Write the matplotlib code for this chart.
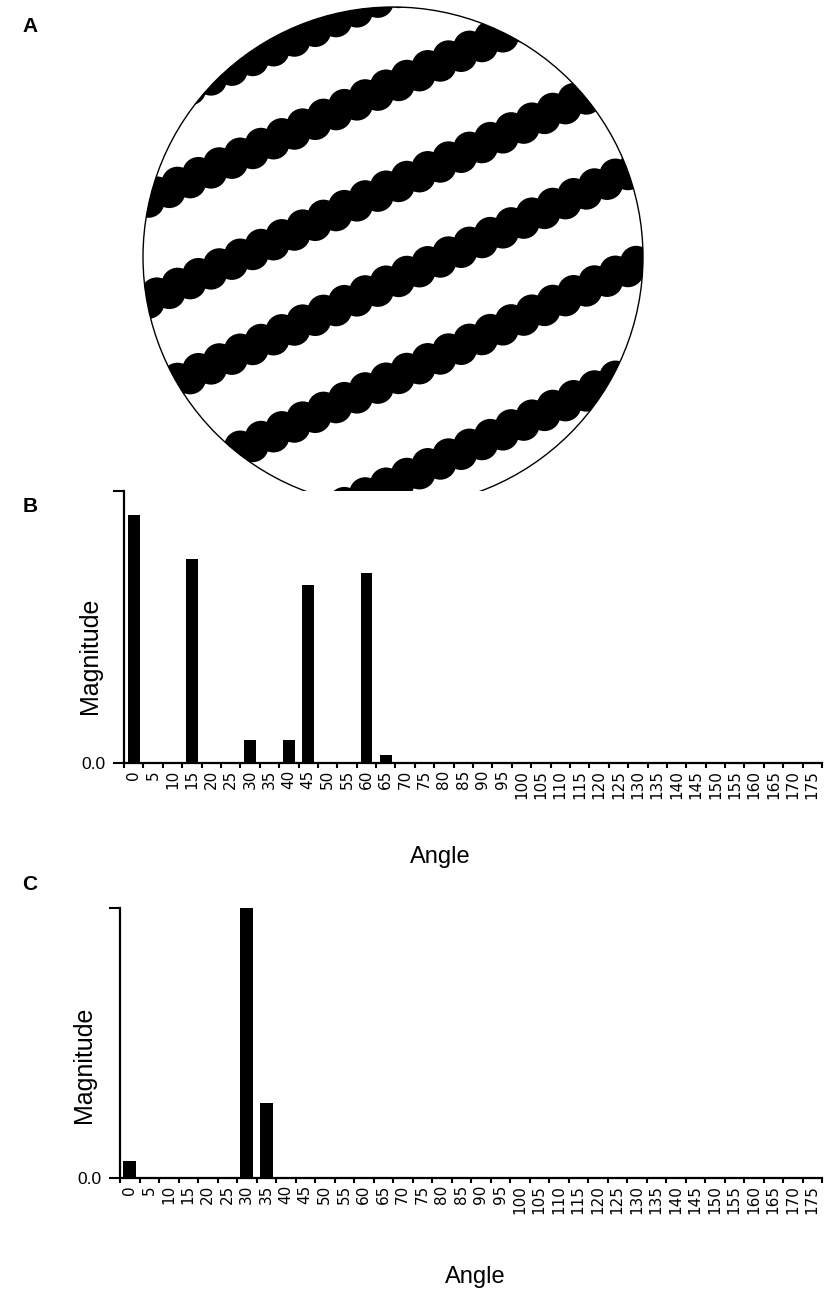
import numpy as np
import matplotlib
matplotlib.use("Agg")
import matplotlib.pyplot as plt
from matplotlib.patches import Circle
from matplotlib.collections import PatchCollection

plt.rcParams['font.family'] = ['Liberation Sans', 'DejaVu Sans']

# ---------------- data ----------------
angles = ["0", "5", "10", "15", "20", "25", "30", "35", "40", "45", "50", "55",
          "60", "65", "70", "75", "80", "85", "90", "95", "100", "105", "110", "115",
          "120", "125", "130", "135", "140", "145", "150", "155", "160", "165", "170", "175"]

magnitude_b = [0.91, 0.0, 0.0, 0.75, 0.0, 0.004, 0.085, 0.0, 0.085, 0.655, 0.0, 0.004,
               0.70, 0.03, 0.0, 0.0, 0.0, 0.0, 0.0, 0.0, 0.0, 0.0, 0.0, 0.0,
               0.0, 0.0, 0.0, 0.0, 0.0, 0.0, 0.0, 0.0, 0.0, 0.0, 0.0, 0.0]

magnitude_c = [0.063, 0.0, 0.0, 0.0, 0.0, 0.004, 1.0, 0.278, 0.0, 0.0, 0.0, 0.004,
               0.004, 0.0, 0.0, 0.0, 0.003, 0.0, 0.0, 0.0, 0.0, 0.0, 0.0, 0.0,
               0.0, 0.0, 0.0, 0.0, 0.0, 0.0, 0.0, 0.0, 0.0, 0.0, 0.0, 0.0]

# stripe centre lines of panel A (y at the disc's centre column, pixels)
stripe_offsets = [-8, 85, 186, 281, 378, 483]
stripe_angle_deg = 25.0

W, H = 825, 1290
fig = plt.figure(figsize=(W / 100, H / 100), dpi=100)


def fx(x):
    return x / W


def fy(y):
    return 1 - y / H


# ---------------- panel A ----------------
ax_a = fig.add_axes([0, fy(520), 1, 520 / H])
ax_a.set_xlim(0, W)
ax_a.set_ylim(520, 0)
ax_a.axis('off')

cx, cy, R = 393, 257, 250
clip = Circle((cx, cy), R, transform=ax_a.transData)
th = np.deg2rad(stripe_angle_deg)
ux, uy = np.cos(th), -np.sin(th)        # along stripe
nx, ny = np.sin(th), np.cos(th)         # across stripe
bead_r, bead_step, wobble = 16.0, 11.5, 2.5
beads = []
for c in stripe_offsets:
    for i, t in enumerate(np.arange(-340, 340, bead_step)):
        off = wobble if i % 2 == 0 else -wobble
        bx = cx + t * ux + off * nx
        by = c + t * uy + off * ny
        beads.append(Circle((bx, by), bead_r))
pc = PatchCollection(beads, facecolor='black', edgecolor='none')
ax_a.add_collection(pc)
pc.set_clip_path(clip)
ax_a.add_patch(Circle((cx, cy), R, fill=False, ec='black', lw=1.0))


# ---------------- bar panels ----------------
def bar_panel(left, right, top, bottom, values, width):
    ax = fig.add_axes([fx(left), fy(bottom), (right - left) / W, (bottom - top) / H])
    x = np.arange(len(angles))
    ax.bar(x, values, width=width, color='black', linewidth=0)
    ax.set_xlim(-0.5, len(angles) - 0.5)
    ax.set_ylim(0, 1.0)
    ax.set_xticks(np.arange(-0.5, len(angles), 1.0))
    ax.set_xticklabels([])
    ax.set_xticks(x, minor=True)
    ax.set_xticklabels(angles, minor=True, rotation=90, fontsize=11,
                       fontfamily='DejaVu Sans')
    ax.tick_params(axis='x', which='major', direction='out', length=3.5, width=1.5)
    ax.tick_params(axis='x', which='minor', length=0, pad=5)
    ax.set_yticks([0, 1.0])
    ax.set_yticklabels(['0.0', ''], fontsize=12.5)
    ax.tick_params(axis='y', direction='out', length=8, width=1.5, pad=5)
    for s in ['top', 'right']:
        ax.spines[s].set_visible(False)
    for s in ['left', 'bottom']:
        ax.spines[s].set_linewidth(1.6)
    return ax


ax_b = bar_panel(124, 822, 491, 763, magnitude_b, 0.6)
ax_c = bar_panel(120, 822, 908, 1178, magnitude_c, 0.68)

fig.text(fx(90), fy(656), 'Magnitude', rotation=90, fontsize=18, ha='center', va='center')
fig.text(fx(84), fy(1065), 'Magnitude', rotation=90, fontsize=18, ha='center', va='center')
fig.text(fx(440), fy(863), 'Angle', fontsize=17, ha='center', va='baseline')
fig.text(fx(475), fy(1283), 'Angle', fontsize=17, ha='center', va='baseline')

fig.text(fx(30), fy(27), 'A', fontsize=15, fontweight='bold', ha='center', va='center')
fig.text(fx(30), fy(506), 'B', fontsize=15, fontweight='bold', ha='center', va='center')
fig.text(fx(30), fy(885), 'C', fontsize=15, fontweight='bold', ha='center', va='center')

fig.savefig('out.png', dpi=100)
